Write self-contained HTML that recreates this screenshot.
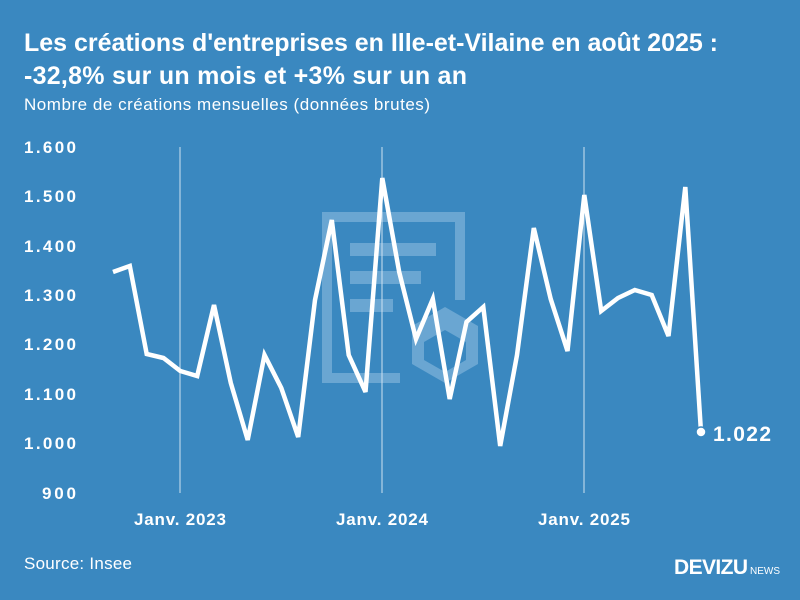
<!DOCTYPE html>
<html><head><meta charset="utf-8"><style>
body{margin:0;width:800px;height:600px;background:#3a88c0;font-family:"Liberation Sans",sans-serif;overflow:hidden}
</style></head><body>
<svg width="800" height="600" xmlns="http://www.w3.org/2000/svg" style="position:absolute;left:0;top:0">
<rect width="800" height="600" fill="#3a88c0"/>
<text x="24" y="51" font-size="25" font-weight="bold" fill="#fff" textLength="694">Les créations d'entreprises en Ille-et-Vilaine en août 2025 :</text>
<text x="24" y="84" font-size="25" font-weight="bold" fill="#fff" textLength="443">-32,8% sur un mois et +3% sur un an</text>
<text x="24" y="110" font-size="17" fill="#fff" textLength="406">Nombre de créations mensuelles (données brutes)</text>
<g fill="none" stroke="#6aa6d2" stroke-width="10">
<path d="M400 378 H327 V217 H460 V300"/>
</g>
<g fill="#6aa6d2">
<rect x="350" y="243" width="86" height="13"/><rect x="350" y="271" width="71" height="13"/><rect x="350" y="299" width="43" height="13"/>
<path d="M445 307 L478 326 V364 L445 383 L412 364 V326 Z M445 330 L424 342 V360 L445 372 L466 360 V342 Z"/>
</g>
<g stroke="#cfe2f1" stroke-width="1">
<line x1="180" y1="147" x2="180" y2="493"/><line x1="382" y1="147" x2="382" y2="493"/><line x1="584" y1="147" x2="584" y2="493"/>
</g>
<g font-size="17" font-weight="bold" fill="#fff">
<text x="24" y="153" textLength="52">1.600</text><text x="24" y="202" textLength="52">1.500</text><text x="24" y="252" textLength="52">1.400</text><text x="24" y="301" textLength="52">1.300</text><text x="24" y="350" textLength="52">1.200</text><text x="24" y="400" textLength="52">1.100</text><text x="24" y="449" textLength="52">1.000</text><text x="42" y="499" textLength="34">900</text>
<text x="134" y="525" textLength="92">Janv. 2023</text><text x="336" y="525" textLength="92">Janv. 2024</text><text x="538" y="525" textLength="92">Janv. 2025</text>
</g>
<polyline fill="none" stroke="#fff" stroke-width="4.5" stroke-linejoin="miter" points="113,272 129.8,266 146.7,354 163.5,358 180.3,371 197.2,376 214,305 230.8,383 247.7,440 264.5,355 281.3,388 298.2,437 315,300 331.8,220 348.7,355 365.5,392 382.3,178 399.2,272 416,339 432.8,299 449.7,399 466.5,322 483.3,307 500.2,446 517,355 533.8,228 550.7,299 567.5,351 584.3,195 601.2,311 618,298 634.8,290 651.7,295 668.5,336 685.3,187 701,432"/>
<circle cx="701" cy="432" r="5" fill="#fff" stroke="#3a88c0" stroke-width="1.5"/>
<text x="713" y="441" font-size="21" font-weight="bold" fill="#fff" textLength="58">1.022</text>
<text x="24" y="569" font-size="17" fill="#fff" textLength="108">Source: Insee</text>
<text x="674" y="574" font-size="21" font-weight="bold" fill="#fff" textLength="74">DEVIZU</text>
<text x="750" y="574" font-size="10" fill="#fff">NEWS</text>
</svg>
</body></html>
